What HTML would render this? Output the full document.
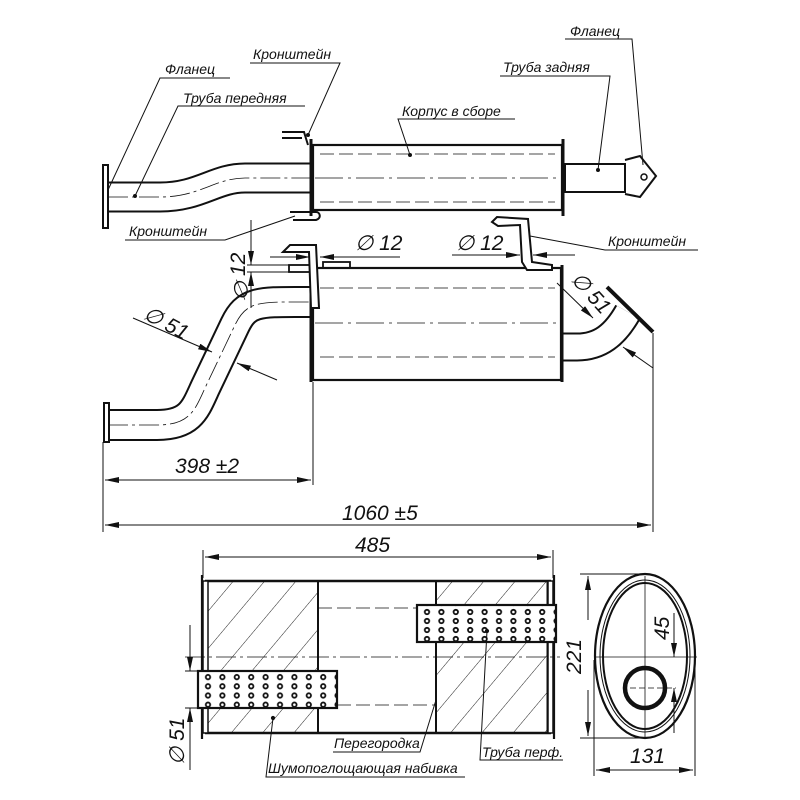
<!DOCTYPE html>
<html><head><meta charset="utf-8"><style>
html,body{margin:0;padding:0;background:#fff}
svg{display:block}
text{font-family:"Liberation Sans",sans-serif;font-style:italic;fill:#111}
.l{font-size:14px}
.d{font-size:21px}
</style></head><body>
<svg width="800" height="800" viewBox="0 0 800 800" xmlns="http://www.w3.org/2000/svg">
<defs>
<pattern id="h" width="24" height="24" patternUnits="userSpaceOnUse" patternTransform="rotate(40)">
<line x1="0" y1="0" x2="0" y2="24" stroke="#222" stroke-width="1"/></pattern>
<pattern id="p" x="200.8" y="672.5" width="14.4" height="9.2" patternUnits="userSpaceOnUse">
<circle cx="7.2" cy="4.6" r="2.2" fill="none" stroke="#111" stroke-width="1.8"/></pattern>
<pattern id="p2" x="419.8" y="607.5" width="14.4" height="9" patternUnits="userSpaceOnUse">
<circle cx="7.2" cy="4.5" r="2.2" fill="none" stroke="#111" stroke-width="1.8"/></pattern>
<marker id="a" markerWidth="14" markerHeight="6" refX="14" refY="3" orient="auto" markerUnits="userSpaceOnUse">
<path d="M0,0 L14,3 L0,6 Z" fill="#111"/></marker>
<marker id="b" markerWidth="14" markerHeight="6" refX="0" refY="3" orient="auto" markerUnits="userSpaceOnUse">
<path d="M14,0 L0,3 L14,6 Z" fill="#111"/></marker>
</defs>
<g stroke="#111" fill="none" stroke-width="1">
<!-- TOP VIEW -->
<path d="M108,197 L160,197 C200,197 215,178 245,178 L312,178" stroke-width="31"/>
<path d="M108,197 L160,197 C200,197 215,178 245,178 L312,178" stroke="#fff" stroke-width="27"/>
<path d="M108,197 L160,197 C200,197 215,178 245,178 L312,178" stroke-dasharray="20,4,3,4" stroke-width="0.8"/>
<rect x="103" y="165" width="5" height="63" stroke-width="2" fill="#fff"/>
<rect x="313" y="145" width="249" height="65" stroke-width="2.2" fill="#fff"/>
<line x1="311" y1="139" x2="311" y2="216" stroke-width="3"/>
<line x1="563" y1="139" x2="563" y2="216" stroke-width="3"/>
<line x1="320" y1="154" x2="555" y2="154" stroke-dasharray="14,5" stroke-width="0.8"/>
<line x1="320" y1="202" x2="555" y2="202" stroke-dasharray="14,5" stroke-width="0.8"/>
<line x1="315" y1="178" x2="560" y2="178" stroke-dasharray="28,5,3,5" stroke-width="0.8"/>
<rect x="565" y="164" width="60" height="28" stroke-width="2" fill="#fff"/>
<path d="M625,160 L640,156 L656,176 L640,197 L625,194" stroke-width="2"/>
<circle cx="644" cy="177" r="3" stroke-width="1.5"/>
<path d="M282,132 L304,132 L308,145 M282,138 L302,138" stroke-width="2"/>
<path d="M290,212 L316,212 C320,212 322,218 316,220 L293,220" stroke-width="2"/>
<path d="M230,78 L160,78 L108,190"/>
<path d="M305,106 L178,106 L135,196"/>
<path d="M250,63 L340,63 L308,135"/>
<path d="M515,119 L398,119 L410,155"/>
<path d="M565,39 L632,39 L643,165"/>
<path d="M500,76 L610,76 L598,170"/>
<path d="M125,240 L225,240 L295,216"/>
<circle cx="135" cy="196" r="1.5" fill="#111"/><circle cx="410" cy="155" r="1.5" fill="#111"/>
<circle cx="598" cy="170" r="1.5" fill="#111"/><circle cx="308" cy="135" r="1.5" fill="#111"/>
<!-- SIDE VIEW -->
<path d="M108,425 L157,425 C190,425 195,410 205,388 L235,325 C247,300 260,302 311,302" stroke-width="32"/>
<path d="M108,425 L157,425 C190,425 195,410 205,388 L235,325 C247,300 260,302 311,302" stroke="#fff" stroke-width="28"/>
<path d="M108,425 L157,425 C190,425 195,410 205,388 L235,325 C247,300 260,302 311,302" stroke-dasharray="20,4,3,4" stroke-width="0.8"/>
<rect x="104" y="403" width="5" height="39" stroke-width="2" fill="#fff"/>
<path d="M563,347 L577,347 C600,347 615,335 628,312" stroke-width="29"/>
<path d="M563,347 L577,347 C600,347 615,335 628,312" stroke="#fff" stroke-width="25"/>
<line x1="607" y1="287" x2="653" y2="332" stroke-width="4"/>
<rect x="313" y="268" width="248" height="112" stroke-width="2.2" fill="#fff"/>
<line x1="311" y1="287" x2="311" y2="382" stroke-width="3"/>
<line x1="562" y1="265" x2="562" y2="382" stroke-width="3"/>
<line x1="320" y1="288" x2="555" y2="288" stroke-dasharray="14,5" stroke-width="0.8"/>
<line x1="320" y1="357" x2="555" y2="357" stroke-dasharray="14,5" stroke-width="0.8"/>
<line x1="315" y1="323" x2="560" y2="323" stroke-dasharray="28,5,3,5" stroke-width="0.8"/>
<rect x="289" y="265" width="21" height="7" stroke-width="1.8"/>
<rect x="323" y="262" width="27" height="6" stroke-width="1.8"/>
<path d="M283,252 L290,245 L316,245 L319,308 L311,308 L309,252 L292,252 Z" stroke-width="2" fill="#fff"/>
<path d="M492,222 L497,217 L528,219 L532,262 L552,265 L552,270 L527,270 L522,262 L520,225 L498,226 Z" stroke-width="2" fill="#fff"/>
<!-- dims side -->
<line x1="103" y1="442" x2="103" y2="532"/>
<line x1="313" y1="382" x2="313" y2="485"/>
<line x1="653" y1="333" x2="653" y2="532"/>
<line x1="105" y1="480" x2="311" y2="480" marker-start="url(#b)" marker-end="url(#a)"/>
<line x1="105" y1="525" x2="651" y2="525" marker-start="url(#b)" marker-end="url(#a)"/>
<line x1="133" y1="318" x2="212" y2="352" marker-end="url(#a)"/>
<line x1="277" y1="380" x2="237" y2="363" marker-end="url(#a)"/>
<line x1="251" y1="220" x2="251" y2="265" marker-end="url(#a)"/>
<line x1="251" y1="308" x2="251" y2="272" marker-end="url(#a)"/>
<line x1="247" y1="265" x2="289" y2="265"/><line x1="247" y1="272" x2="289" y2="272"/>
<line x1="270" y1="257" x2="310" y2="257" marker-end="url(#a)"/>
<line x1="400" y1="257" x2="320" y2="257" marker-end="url(#a)"/>
<line x1="452" y1="255" x2="520" y2="255" marker-end="url(#a)"/>
<line x1="575" y1="255" x2="533" y2="255" marker-end="url(#a)"/>
<line x1="557" y1="283" x2="593" y2="318" marker-end="url(#a)"/>
<line x1="653" y1="368" x2="623" y2="347" marker-end="url(#a)"/>
<path d="M698,250 L605,250 L530,236"/>
<!-- SECTION -->
<line x1="203" y1="550" x2="203" y2="578"/><line x1="553" y1="550" x2="553" y2="578"/>
<line x1="205" y1="557" x2="551" y2="557" marker-start="url(#b)" marker-end="url(#a)"/>
<rect x="208" y="581" width="110" height="152" fill="url(#h)"/>
<rect x="436" y="581" width="111" height="152" fill="url(#h)"/>
<line x1="318" y1="581" x2="318" y2="733" stroke-width="2"/>
<line x1="436" y1="581" x2="436" y2="733" stroke-width="2"/>
<line x1="205" y1="581" x2="551" y2="581" stroke-width="2.5"/>
<line x1="205" y1="733" x2="551" y2="733" stroke-width="2.5"/>
<rect x="203" y="581" width="5" height="152" stroke-width="1.5" fill="#fff"/>
<rect x="548" y="581" width="5" height="152" stroke-width="1.5" fill="#fff"/>
<line x1="202" y1="575" x2="202" y2="739" stroke-width="2.2"/>
<line x1="554" y1="575" x2="554" y2="739" stroke-width="2.2"/>
<line x1="318" y1="608" x2="417" y2="608" stroke-dasharray="14,5" stroke-width="0.8"/>
<line x1="337" y1="705" x2="436" y2="705" stroke-dasharray="14,5" stroke-width="0.8"/>
<line x1="185" y1="657" x2="560" y2="657" stroke-dasharray="20,4,3,4" stroke-width="0.8"/>
<rect x="198" y="671" width="139" height="37" stroke-width="2.2" fill="#fff"/>
<rect x="198" y="671" width="139" height="37" fill="url(#p)" stroke="none"/>
<rect x="417" y="605" width="139" height="37" stroke-width="2.2" fill="#fff"/>
<rect x="417" y="605" width="139" height="37" fill="url(#p2)" stroke="none"/>
<line x1="190" y1="625" x2="190" y2="671" marker-end="url(#a)"/>
<line x1="190" y1="770" x2="190" y2="708" marker-end="url(#a)"/>
<line x1="185" y1="671" x2="198" y2="671"/><line x1="185" y1="708" x2="198" y2="708"/>
<path d="M333,752 L420,752 L436,700"/>
<path d="M465,777 L266,777 L273,718"/>
<path d="M563,760 L480,760 L487,631"/>
<circle cx="273" cy="718" r="1.6" fill="#111"/><circle cx="487" cy="631" r="1.6" fill="#111"/>
<!-- end view -->
<ellipse cx="645" cy="656" rx="50" ry="82" stroke-width="2.2"/>
<ellipse cx="645" cy="656" rx="45" ry="76" stroke-width="1"/>
<ellipse cx="645" cy="656" rx="42" ry="73" stroke-width="2"/>
<circle cx="645" cy="688" r="20" stroke-width="4.5"/>
<line x1="595" y1="657" x2="697" y2="657" stroke-width="0.8"/>
<line x1="645" y1="576" x2="645" y2="738" stroke-width="0.8"/>
<line x1="630" y1="688" x2="676" y2="688" stroke-dasharray="6,3" stroke-width="0.8"/>
<line x1="580" y1="574" x2="645" y2="574"/><line x1="580" y1="738" x2="645" y2="738"/>
<line x1="588" y1="620" x2="588" y2="576" marker-end="url(#a)"/>
<line x1="588" y1="690" x2="588" y2="736" marker-end="url(#a)"/>
<line x1="594" y1="660" x2="594" y2="776"/><line x1="695" y1="660" x2="695" y2="776"/>
<line x1="596" y1="770" x2="693" y2="770" marker-start="url(#b)" marker-end="url(#a)"/>
<line x1="674" y1="613" x2="674" y2="657" marker-end="url(#a)"/>
<line x1="674" y1="733" x2="674" y2="688" marker-end="url(#a)"/>
</g>
<text class="l" x="165" y="74">Фланец</text>
<text class="l" x="183" y="103">Труба передняя</text>
<text class="l" x="253" y="59">Кронштейн</text>
<text class="l" x="402" y="116">Корпус в сборе</text>
<text class="l" x="570" y="36">Фланец</text>
<text class="l" x="503" y="72">Труба задняя</text>
<text class="l" x="129" y="236">Кронштейн</text>
<text class="l" x="608" y="246">Кронштейн</text>
<text class="d" x="355" y="250">∅ 12</text>
<text class="d" x="456" y="250">∅ 12</text>
<text class="d" transform="translate(245,276) rotate(-90)">12</text>
<text class="d" transform="translate(244,302) rotate(-70)">∅</text>
<text class="d" transform="translate(142,318) rotate(28)">∅ 51</text>
<text class="d" transform="translate(570,280) rotate(48)">∅ 51</text>
<text class="d" x="175" y="473">398 ±2</text>
<text class="d" x="342" y="520">1060 ±5</text>
<text class="d" x="355" y="552">485</text>
<text class="d" transform="translate(581,674) rotate(-90)">221</text>
<text class="d" x="630" y="763">131</text>
<text class="d" transform="translate(669,640) rotate(-90)">45</text>
<text class="d" transform="translate(184,765) rotate(-90)">∅ 51</text>
<text class="l" x="334" y="748">Перегородка</text>
<text class="l" x="268" y="773">Шумопоглощающая набивка</text>
<text class="l" x="482" y="757">Труба перф.</text>
</svg>
</body></html>
